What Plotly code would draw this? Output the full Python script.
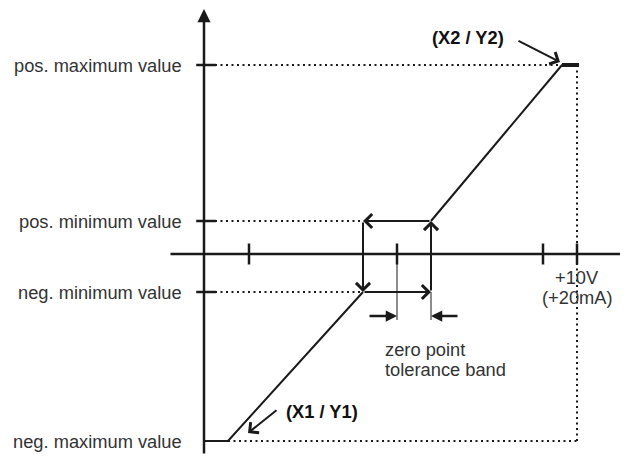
import plotly.graph_objects as go

# ---- data (diagram units; origin at the axes crossing) ----
Y_POS_MAX = 189
Y_POS_MIN = 33
Y_NEG_MIN = -38
Y_NEG_MAX = -187

X1 = 24           # start of the rising lower branch
BAND_L = 159      # left edge of hysteresis band
BAND_C = 193      # zero point
BAND_R = 227      # right edge of hysteresis band
X2 = 358          # end of rising upper branch
X_10V = 373       # +10 V (+20 mA)
X_END = 375

lower_x = [0, X1, BAND_L]
lower_y = [Y_NEG_MAX, Y_NEG_MAX, Y_NEG_MIN]
upper_x = [BAND_R, X2]
upper_y = [Y_POS_MIN, Y_POS_MAX]
top_flat_x = [X2, X_END]
top_flat_y = [Y_POS_MAX, Y_POS_MAX]

x_ticks = [45, BAND_C, 339, X_10V]
y_ticks = [Y_POS_MAX, Y_POS_MIN, Y_NEG_MIN]

y_labels = ["pos. maximum value", "pos. minimum value",
            "neg. minimum value", "neg. maximum value"]
y_label_pos = [Y_POS_MAX, Y_POS_MIN, Y_NEG_MIN, Y_NEG_MAX]

AX_Y_BOTTOM = -201
AX_Y_TOP = 245
AX_X_LEFT = -35
AX_X_RIGHT = 432

INK = "#1a1a1a"
TXT = "#333333"
FONT = "Liberation Sans, Arial, sans-serif"

fig = go.Figure()

def line(x, y, width=2, dash=None, color=INK):
    fig.add_trace(go.Scatter(x=x, y=y, mode="lines",
                             line=dict(color=color, width=width, dash=dash),
                             hoverinfo="skip", showlegend=False))

# dotted guide lines
DOT = "2px,3.5px"
line([0, X2], [Y_POS_MAX, Y_POS_MAX], 2, DOT)
line([0, BAND_L], [Y_POS_MIN, Y_POS_MIN], 2, DOT)
line([0, BAND_L], [Y_NEG_MIN, Y_NEG_MIN], 2, DOT)
line([X1, X_10V], [Y_NEG_MAX, Y_NEG_MAX], 2, DOT)
line([X_10V, X_10V], [Y_POS_MAX, Y_NEG_MAX], 2, DOT)

# thin lines marking the tolerance band
BAND_ARROW_Y = -62
BAND_LINE_BOTTOM = -66
line([BAND_C, BAND_C], [0, BAND_LINE_BOTTOM], 1)
line([BAND_R, BAND_R], [Y_NEG_MIN, BAND_LINE_BOTTOM], 1)

# characteristic curve
line(lower_x, lower_y, 2)
line(upper_x, upper_y, 2)
line(top_flat_x, top_flat_y, 4)

# tick marks
fig.add_trace(go.Scatter(x=x_ticks, y=[0] * len(x_ticks), mode="markers",
                         marker=dict(symbol="line-ns", size=15,
                                     line=dict(color=INK, width=2.5)),
                         hoverinfo="skip", showlegend=False))
fig.add_trace(go.Scatter(x=[2] * len(y_ticks), y=y_ticks, mode="markers",
                         marker=dict(symbol="line-ew", size=14,
                                     line=dict(color=INK, width=2.5)),
                         hoverinfo="skip", showlegend=False))

def arrow(x0, y0, x1, y1, head=2, width=2.5, size=1.0):
    fig.add_annotation(x=x1, y=y1, ax=x0, ay=y0, xref="x", yref="y",
                       axref="x", ayref="y", text="", showarrow=True,
                       arrowhead=head, arrowwidth=width, arrowsize=size,
                       arrowcolor=INK, standoff=0)

# axes with arrow heads
arrow(0, AX_Y_BOTTOM, 0, AX_Y_TOP, head=2, width=2.5, size=1.05)
arrow(AX_X_LEFT, 0, AX_X_RIGHT, 0, head=2, width=2.5, size=1.05)

# hysteresis loop with direction arrows
arrow(BAND_R, Y_POS_MIN, BAND_L, Y_POS_MIN, head=4, width=2, size=1.35)
arrow(BAND_L, Y_POS_MIN, BAND_L, Y_NEG_MIN, head=4, width=2, size=1.35)
arrow(BAND_L, Y_NEG_MIN, BAND_R, Y_NEG_MIN, head=4, width=2, size=1.35)
arrow(BAND_R, Y_NEG_MIN, BAND_R, Y_POS_MIN, head=4, width=2, size=1.35)

# tolerance band arrows
arrow(164, BAND_ARROW_Y, BAND_C, BAND_ARROW_Y, head=2, width=2.5, size=0.9)
arrow(255, BAND_ARROW_Y, BAND_R, BAND_ARROW_Y, head=2, width=2.5, size=0.9)

# pointers to (X1/Y1) and (X2/Y2)
arrow(74, -155, 44, -179, head=4, width=2, size=1.3)
arrow(313, 214, 356, 192, head=4, width=2, size=1.3)

def text(x, y, s, anchor="left", bold=False, color=TXT, size=18.3):
    fig.add_annotation(x=x, y=y, xref="x", yref="y", text=s, showarrow=False,
                       xanchor=anchor, yanchor="middle",
                       font=dict(family=FONT, size=size, color=color,
                                 weight="bold" if bold else "normal"))

for lab, yy in zip(y_labels, y_label_pos):
    text(-20, yy, lab, anchor="right")

text(X_10V, -23, "+10V", anchor="center")
text(X_10V, -43, "(+20mA)", anchor="center")
text(179, -95, "zero point")
text(179, -115, "tolerance band")
text(80, -157, "(X1 / Y1)", bold=True, color="#111111")
text(226, 217, "(X2 / Y2)", bold=True, color="#111111")

# the page body has an 8px margin, so the figure is 8px smaller and the
# ranges start 8px later to keep the diagram at its original place
fig.update_layout(
    width=620, height=467,
    margin=dict(l=0, r=0, t=0, b=0),
    paper_bgcolor="white", plot_bgcolor="white",
    xaxis=dict(range=[-196, 424], visible=False, fixedrange=True),
    yaxis=dict(range=[-221, 246], visible=False, fixedrange=True),
    showlegend=False,
)

fig.write_html("out.html")
